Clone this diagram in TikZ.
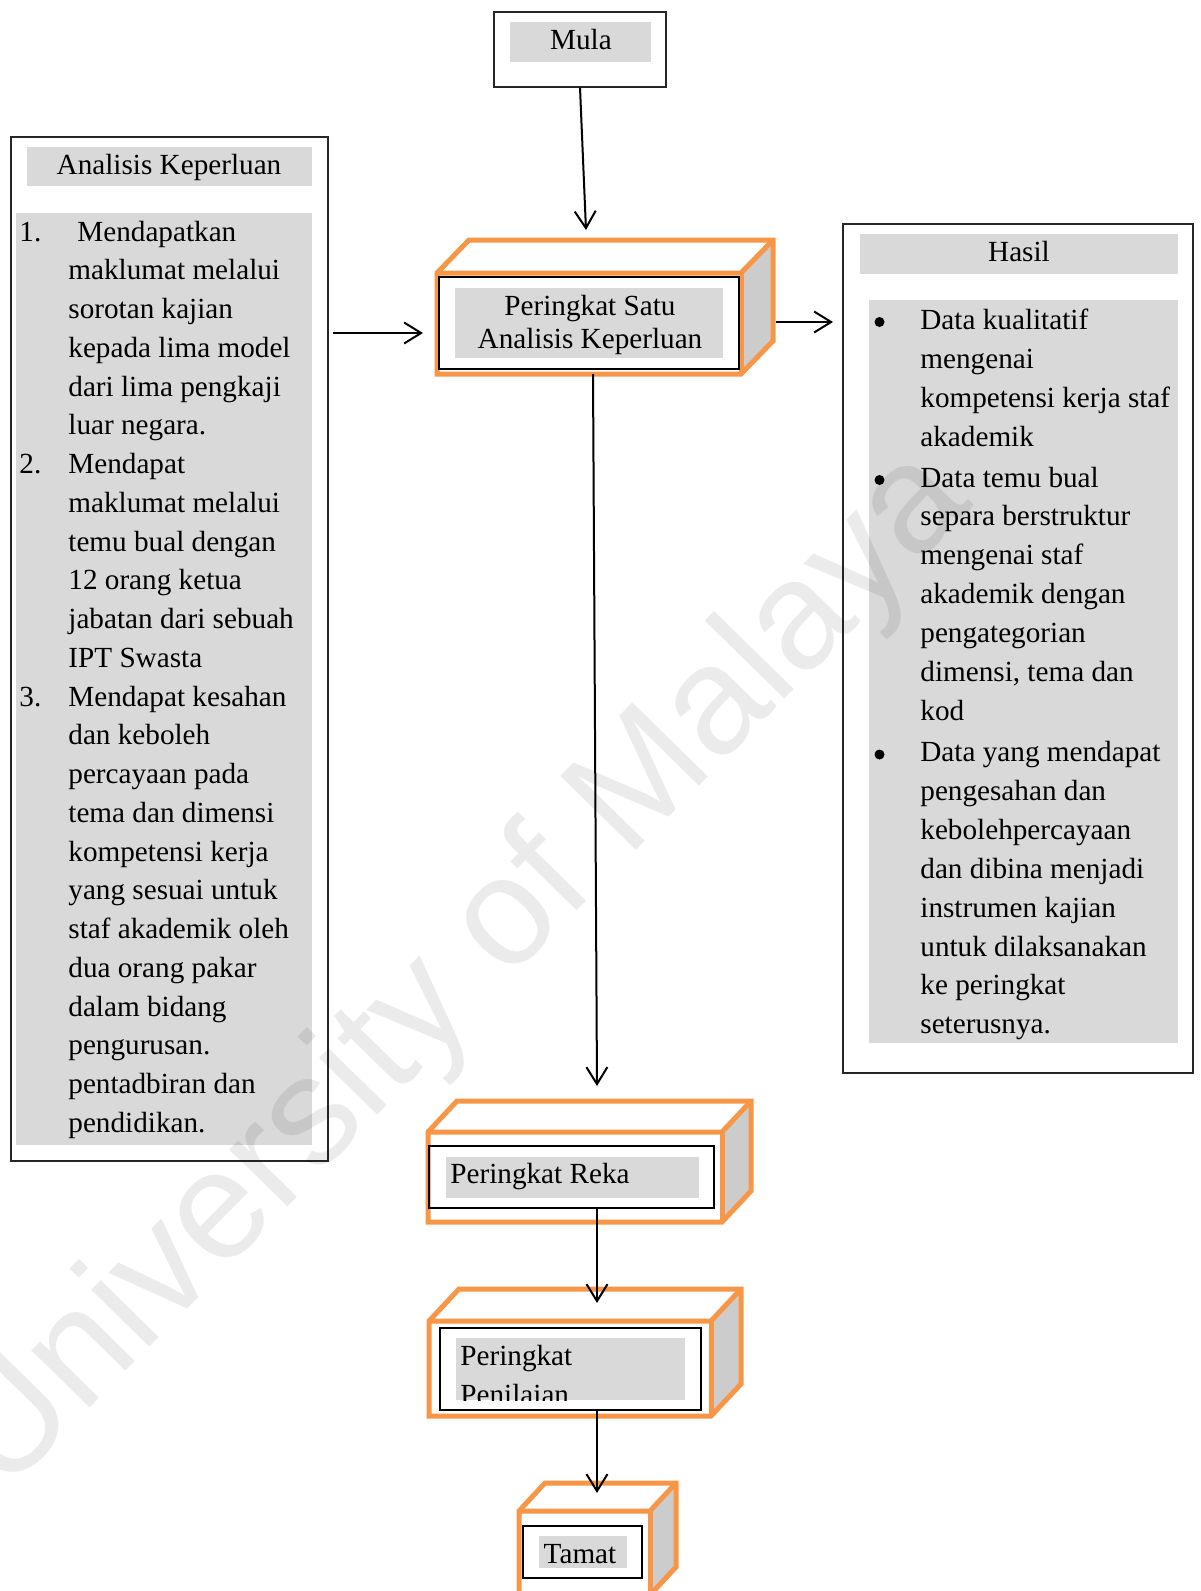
\documentclass[tikz,border=0pt]{standalone}
\usepackage{fontspec}
\setmainfont{Liberation Serif}
\newfontfamily\wmfont{Liberation Sans}
\usetikzlibrary{arrows.meta,fit}
\definecolor{orng}{HTML}{F79646}
\definecolor{lgray}{HTML}{D9D9D9}
\definecolor{sgray}{HTML}{CCCCCC}
\definecolor{edge}{HTML}{262626}
\newcommand{\fs}{\fontsize{14.6pt}{19.4pt}\selectfont}
% x1,y1,x2,y2 of the front face, dx,dy depth offset (back face goes right and up)
\newcommand{\cubebox}[6]{%
  \fill[white] (#1,#2) -- ({#1+#5},{#2-#6}) -- ({#3+#5},{#2-#6}) -- (#3,#2) -- cycle;
  \fill[sgray] (#3,#2) -- ({#3+#5},{#2-#6}) -- ({#3+#5},{#4-#6}) -- (#3,#4) -- cycle;
  \fill[white] (#1,#2) rectangle (#3,#4);
  \draw[cubeedge] (#1,#4) -- (#1,#2) -- ({#1+#5},{#2-#6}) -- ({#3+#5},{#2-#6}) -- ({#3+#5},{#4-#6}) -- (#3,#4) -- cycle;
  \draw[cubeedge] (#1,#2) -- (#3,#2) -- ({#3+#5},{#2-#6});
  \draw[cubeedge] (#3,#2) -- (#3,#4);
}
\begin{document}
\begin{tikzpicture}[x=0.5pt,y=-0.5pt,
  txt/.style={font=\fs,inner sep=0pt,anchor=base west},
  ctxt/.style={font=\fs,inner sep=0pt,anchor=base},
  frame/.style={draw=edge,line width=0.6pt,inner sep=0pt},
  inframe/.style={draw=black,line width=0.6pt,inner sep=0pt},
  cubeedge/.style={draw=orng,line width=2.5pt,line join=miter},
  arr/.style={draw=black,line width=1pt,-{Straight Barb[length=8.5pt,width=10.5pt]}},
  dot/.style={circle,fill=black,inner sep=0pt,minimum size=5pt}]

\useasboundingbox (0,0) rectangle (1200,1591);
\clip (0,0) rectangle (1200,1591);

% ---------- Mula ----------
\node[frame,fit={(494,12)(666,87)}] (mula) {};
\fill[lgray] (510,22) rectangle (651,62);
\node[ctxt] (mulaT) at (581,49) {Mula};

% ---------- Analisis Keperluan (left) ----------
\node[frame,fit={(11,137)(328,1161)}] (need) {};
\fill[lgray] (27,147) rectangle (312,186);
\fill[lgray] (16,213) rectangle (312,1145);
\node[ctxt] (needT) at (169,174) {Analisis Keperluan};
\node[txt] (n1) at (19,241) {1.};
\node[txt] (n2) at (19,{241+6*38.75}) {2.};
\node[txt] (n3) at (19,{241+12*38.75}) {3.};
\node[txt] (L0) at (77,241) {Mendapatkan};
\foreach \t [count=\i from 1] in {maklumat melalui,sorotan kajian,kepada lima model,dari lima pengkaji,luar negara.,Mendapat,maklumat melalui,temu bual dengan,12 orang ketua,jabatan dari sebuah,IPT Swasta,Mendapat kesahan,dan keboleh,percayaan pada,tema dan dimensi,kompetensi kerja,yang sesuai untuk,staf akademik oleh,dua orang pakar,dalam bidang,pengurusan.,pentadbiran dan,pendidikan.}
  \node[txt] (L\i) at (68,{241+38.75*\i}) {\t};

% ---------- Hasil (right) ----------
\node[frame,fit={(843,224)(1193,1073)}] (hasil) {};
\fill[lgray] (860,234) rectangle (1178,274);
\fill[lgray] (869,300) rectangle (1178,1043);
\node[ctxt] (hasilT) at (1019,261) {Hasil};
\node[dot] (b1) at (879.5,322) {};
\node[dot] (b2) at (879.5,480) {};
\node[dot] (b3) at (879.5,754.5) {};
\foreach \t [count=\i from 0] in {Data kualitatif,mengenai,kompetensi kerja staf,akademik}
  \node[txt] (Ra\i) at (920,{329.5+38.9*\i}) {\t};
\foreach \t [count=\i from 0] in {Data temu bual,separa berstruktur,mengenai staf,akademik dengan,pengategorian,{dimensi, tema dan},kod}
  \node[txt] (Rb\i) at (920,{487+38.9*\i}) {\t};
\foreach \t [count=\i from 0] in {Data yang mendapat,pengesahan dan,kebolehpercayaan,dan dibina menjadi,instrumen kajian,untuk dilaksanakan,ke peringkat,seterusnya.}
  \node[txt] (Rc\i) at (920,{761.5+38.9*\i}) {\t};

% ---------- Peringkat Satu ----------
\cubebox{437}{273}{741}{374}{32}{33}
\node[inner sep=0pt,fit={(437,273)(741,374)}] (satu) {};
\node[inframe,fit={(439,277)(739,369)}] (satuIn) {};
\fill[lgray] (455,288) rectangle (723,358);
\node[ctxt] (satuT1) at (590,315) {Peringkat Satu};
\node[ctxt] (satuT2) at (590,348) {Analisis Keperluan};

% ---------- Peringkat Reka ----------
\cubebox{428}{1132}{722}{1222}{29}{31}
\node[inner sep=0pt,fit={(428,1132)(722,1222)}] (reka) {};
\node[inframe,fit={(429,1146)(714,1208)}] (rekaIn) {};
\fill[lgray] (446,1157) rectangle (699,1198);
\node[txt] (rekaT) at (450,1183) {Peringkat Reka};

% ---------- Peringkat Penilaian ----------
\cubebox{429}{1321}{711}{1416}{30}{32}
\node[inner sep=0pt,fit={(429,1321)(711,1416)}] (nilai) {};
\node[inframe,fit={(440,1328)(701,1410)}] (nilaiIn) {};
\fill[lgray] (456,1338) rectangle (685,1400);
\begin{scope}
  \clip (456,1338) rectangle (685,1400);
  \node[txt] (nilaiT1) at (460,1365) {Peringkat};
  \node[txt] (nilaiT2) at (460,1404) {Penilaian};
\end{scope}

% ---------- Tamat ----------
\cubebox{519}{1511}{650}{1595}{26}{28}
\node[inner sep=0pt,fit={(519,1511)(650,1595)}] (tamat) {};
\node[inframe,fit={(523,1526)(642,1578)}] (tamatIn) {};
\fill[lgray] (539,1536) rectangle (627,1568);
\node[ctxt] (tamatT) at (580,1563) {Tamat};

% ---------- connectors ----------
\coordinate (satuTip) at (586,230);
\coordinate (needOut) at (333,333);
\coordinate (satuLeftTip) at (423,333);
\coordinate (satuOut) at (776,322);
\coordinate (hasilTip) at (833,322);
\coordinate (satuDown) at (593,374);
\coordinate (rekaTip) at (597,1086);
\coordinate (rekaOut) at (597,1208);
\coordinate (nilaiTip) at (597,1303);
\coordinate (nilaiOut) at (597,1410);
\coordinate (tamatTip) at (597,1493);
\draw[arr] (mula.south) -- (satuTip);
\draw[arr] (needOut) -- (satuLeftTip);
\draw[arr] (satuOut) -- (hasilTip);
\draw[arr] (satuDown) -- (rekaTip);
\draw[arr] (rekaOut) -- (nilaiTip);
\draw[arr] (nilaiOut) -- (tamatTip);

% ---------- watermark ----------
\node[font=\wmfont\fontsize{77pt}{77pt}\selectfont,text=black,opacity=0.08,
      inner sep=0pt,anchor=base,rotate=45.6] (wm) at (490,1000) {University of Malaya};
\end{tikzpicture}
\end{document}
